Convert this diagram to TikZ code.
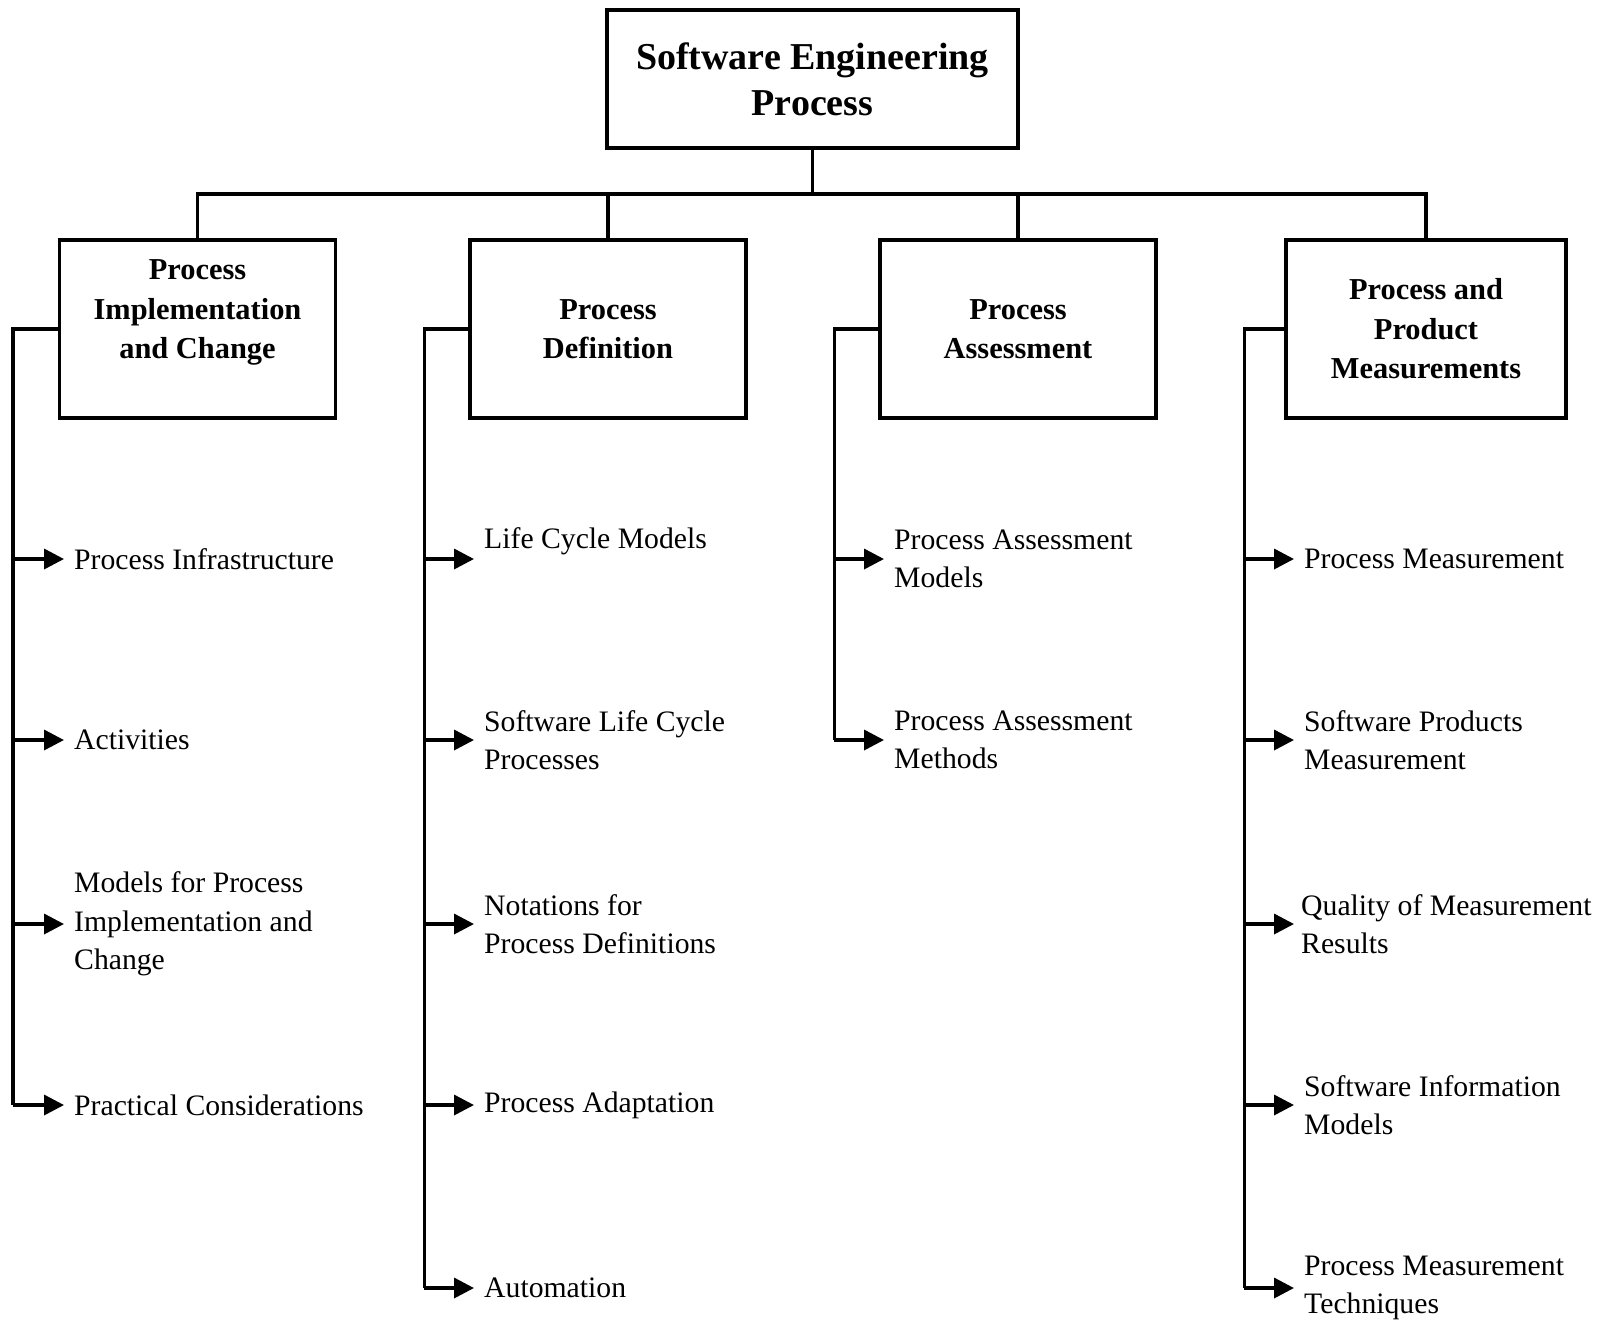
\documentclass[tikz,border=0pt]{standalone}
\usepackage{fontspec}
\setmainfont{Liberation Serif}
\usetikzlibrary{arrows.meta,positioning}
\def\bus{\draw[line width=3.5pt]}
\def\arr{\draw[line width=3.5pt,-{Triangle[length=20pt,width=20pt]}]}

\begin{document}
\begin{tikzpicture}[x=1pt,y=-1pt,
    topbox/.style={draw,line width=3.5pt,minimum width=411pt,minimum height=138pt,
      align=center,font=\fontsize{38}{46}\selectfont\bfseries},
    catbox/.style={draw,line width=3.5pt,minimum width=276pt,minimum height=178pt,
      align=center,font=\fontsize{30.4}{39.5}\selectfont\bfseries},
    leaf/.style={anchor=west,inner xsep=10pt,inner ysep=0pt,align=left,
      font=\fontsize{29.7}{38.5}\selectfont}]
  \useasboundingbox (0,0) rectangle (1608,1326);

  % boxes
  \node[topbox] (sep) at (812.5,79) {Software Engineering\\Process};
  \node[catbox] (pic) at (197.5,329) {Process\\Implementation\\and Change\\\mbox{}};
  \node[catbox] (pd) at (608,329) {Process\\Definition};
  \node[catbox] (pa) at (1018,329) {Process\\Assessment};
  \node[catbox,minimum width=280pt] (ppm) at (1426,329) {Process and\\Product\\Measurements};

  % tree
  \bus (sep.south) -- ++(0,44) coordinate (hub);
  \bus (pic.north) -- (pic.north |- hub) -- (ppm.north |- hub) -- (ppm.north);
  \bus (pd.north) -- (pd.north |- hub);
  \bus (pa.north) -- (pa.north |- hub);

  % implementation and change
  \node[leaf] (pic1) at (64,559) {Process Infrastructure};
  \node[leaf] (pic2) at (64,740) {Activities};
  \node[leaf] (pic3) at (64,924) {Models for Process\\Implementation and\\Change};
  \node[leaf] (pic4) at (64,1105) {Practical Considerations};
  \bus (pic.west) -- ++(-45,0) coordinate (s1) -- (s1 |- pic4.west);
  \arr (s1 |- pic1.west) -- (pic1.west);
  \arr (s1 |- pic2.west) -- (pic2.west);
  \arr (s1 |- pic3.west) -- (pic3.west);
  \arr (s1 |- pic4.west) -- (pic4.west);

  % definition
  \coordinate (pd1tip) at (474,559);
  \node[leaf] (pd1) at (474,541) {Life Cycle Models};
  \node[leaf] (pd2) at (474,740) {Software Life Cycle\\Processes};
  \node[leaf] (pd3) at (474,924) {Notations for\\Process Definitions};
  \node[leaf] (pd4) at (474,1105) {Process Adaptation};
  \node[leaf] (pd5) at (474,1288) {Automation};
  \bus (pd.west) -- ++(-44,0) coordinate (s2) -- (s2 |- pd5.west);
  \arr (s2 |- pd1tip) -- (pd1tip);
  \arr (s2 |- pd2.west) -- (pd2.west);
  \arr (s2 |- pd3.west) -- (pd3.west);
  \arr (s2 |- pd4.west) -- (pd4.west);
  \arr (s2 |- pd5.west) -- (pd5.west);

  % assessment
  \node[leaf] (pa1) at (884,559) {Process Assessment\\Models};
  \node[leaf] (pa2) at (884,740) {Process Assessment\\Methods};
  \bus (pa.west) -- ++(-44,0) coordinate (s3) -- (s3 |- pa2.west);
  \arr (s3 |- pa1.west) -- (pa1.west);
  \arr (s3 |- pa2.west) -- (pa2.west);

  % measurements
  \node[leaf] (ppm1) at (1294,559) {Process Measurement};
  \node[leaf] (ppm2) at (1294,740) {Software Products\\Measurement};
  \node[leaf,inner xsep=7pt] (ppm3) at (1294,924) {Quality of Measurement\\Results};
  \node[leaf] (ppm4) at (1294,1105) {Software Information\\Models};
  \node[leaf] (ppm5) at (1294,1288) {Process Measurement\\Techniques};
  \bus (ppm.west) -- ++(-40,0) coordinate (s4) -- (s4 |- ppm5.west);
  \arr (s4 |- ppm1.west) -- (ppm1.west);
  \arr (s4 |- ppm2.west) -- (ppm2.west);
  \arr (s4 |- ppm3.west) -- (ppm3.west);
  \arr (s4 |- ppm4.west) -- (ppm4.west);
  \arr (s4 |- ppm5.west) -- (ppm5.west);
\end{tikzpicture}
\end{document}
